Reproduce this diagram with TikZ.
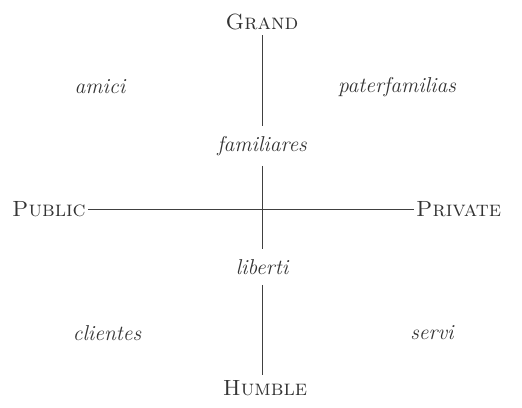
\documentclass[tikz,border=0pt]{standalone}
\usepackage{fontspec}
\begin{document}
\begin{tikzpicture}[x=1pt,y=-1pt,
  pole/.style={font=\fontsize{22}{26}\selectfont\scshape, inner sep=5pt, text=black!80},
  role/.style={font=\fontsize{21.5}{26}\selectfont\itshape, inner sep=7pt, text=black!80},
  axis/.style={draw=black!75, line width=0.8pt}]
\useasboundingbox (0,0) rectangle (522,407);
\node[pole] (G) at (262,22) {Grand};
\node[pole] (H) at (265,388) {Humble};
\node[pole, anchor=west, inner sep=2pt] (Pub) at (10,209) {Public};
\node[pole, anchor=west, inner sep=2pt] (Priv) at (414,209) {Private};
\node[role, inner sep=10pt] (fam) at (262,146) {familiares};
\node[role, inner sep=10pt] (lib) at (262,267) {liberti};
\node[role] (amici) at (100,87) {amici};
\node[role] (pater) at (397,87) {paterfamilias};
\node[role] (cli) at (107,333) {clientes};
\node[role] (servi) at (432,333) {servi};
\draw[axis] (G) -- (fam);
\draw[axis] (fam) -- (lib);
\draw[axis] (lib) -- (lib |- H.north);
\draw[axis] (Pub) -- (Priv);
\end{tikzpicture}
\end{document}
